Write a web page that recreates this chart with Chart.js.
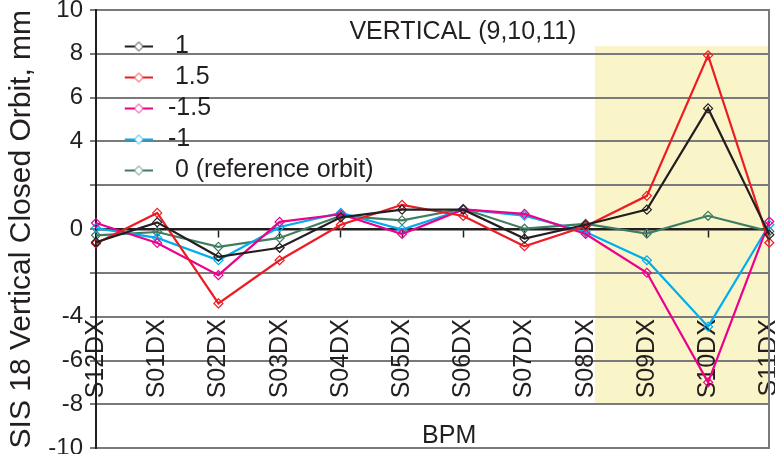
<!DOCTYPE html>
<html>
<head>
<meta charset="utf-8">
<script src="https://cdn.jsdelivr.net/npm/chart.js@4/dist/chart.umd.min.js"></script>
<style>
  body { margin: 0; background: #fff; }
  #wrap { width: 775px; height: 454px; }
</style>
</head>
<body>
<div id="wrap"><canvas id="orbit-chart" width="775" height="454"></canvas></div>
<script>
// BPM names along the ring
const bpmLabels = ['S12DX', 'S01DX', 'S02DX', 'S03DX', 'S04DX', 'S05DX', 'S06DX', 'S07DX', 'S08DX', 'S09DX', 'S10DX', 'S11DX'];

// closed orbit (mm) for each bump setting
const orbitPlus1 = [-0.6, 0.31, -1.26, -0.85, 0.54, 0.89, 0.89, -0.43, 0.2, 0.89, 5.51, -0.25];
const orbitPlus15 = [-0.65, 0.74, -3.39, -1.42, 0.2, 1.11, 0.6, -0.78, 0.13, 1.52, 7.93, -0.62];
const orbitMinus15 = [0.28, -0.63, -2.1, 0.33, 0.68, -0.22, 0.9, 0.7, -0.22, -1.99, -6.99, 0.35];
const orbitMinus1 = [0.05, -0.4, -1.42, 0.1, 0.74, -0.02, 0.9, 0.62, -0.13, -1.42, -4.45, 0.2];
const orbitRef = [-0.28, -0.13, -0.81, -0.4, 0.61, 0.4, 0.93, 0.02, 0.24, -0.2, 0.61, -0.1];

const seriesNames = [' 1', ' 1.5', '-1.5', '-1', ' 0 (reference orbit)'];
const seriesColors = ['#231f20', '#ed1c24', '#ec008c', '#00aeef', '#3f7d62'];

// y tick labels shown in the original (2 and -2 left blank)
const yTickLabels = { 10: '10', 8: '8', 6: '6', 4: '4', 0: '0', '-4': '-4', '-6': '-6', '-8': '-8', '-10': '-10' };

// shaded bump region (S09..S11), in axis units
const bumpRegion = { xFrom: 8.15, xTo: 11, yTop: 8.35, yBottom: -8 };

const FONT = "'Liberation Sans', Arial, sans-serif";
const INK = '#231f20';
const GRID = '#7a7a7a';

// legend marker: short line with a hollow diamond
function makeMarker(color) {
    const c = document.createElement('canvas');
    c.width = 48;
    c.height = 12;
    const g = c.getContext('2d');
    g.strokeStyle = color;
    g.lineWidth = 2;
    g.beginPath();
    g.moveTo(20, 6);
    g.lineTo(48, 6);
    g.stroke();
    g.fillStyle = '#fff';
    g.lineWidth = 1;
    g.beginPath();
    g.moveTo(34, 1.5);
    g.lineTo(38.5, 6);
    g.lineTo(34, 10.5);
    g.lineTo(29.5, 6);
    g.closePath();
    g.fill();
    g.stroke();
    return c;
}
const markers = seriesColors.map(makeMarker);

// yellow band under the grid plus the two free texts
const extrasPlugin = {
    id: 'extras',
    beforeDraw(chart) {
        const { ctx, scales: { x, y } } = chart;
        const x0 = x.getPixelForValue(bumpRegion.xFrom);
        const x1 = x.getPixelForValue(bumpRegion.xTo);
        const y0 = y.getPixelForValue(bumpRegion.yTop);
        const y1 = y.getPixelForValue(bumpRegion.yBottom);
        ctx.save();
        ctx.fillStyle = '#faf5c8';
        ctx.fillRect(x0, y0, x1 - x0, y1 - y0);
        ctx.restore();
    },
    afterDraw(chart) {
        const { ctx, scales: { x, y } } = chart;
        ctx.save();
        ctx.fillStyle = INK;
        ctx.font = '25px ' + FONT;
        ctx.textBaseline = 'middle';
        ctx.textAlign = 'left';
        ctx.fillText('VERTICAL (9,10,11)', x.getPixelForValue(4.14), y.getPixelForValue(9.0));
        ctx.textAlign = 'center';
        ctx.fillText('BPM', x.getPixelForValue(5.77), y.getPixelForValue(-9.43));
        ctx.restore();
    }
};

const seriesData = [orbitPlus1, orbitPlus15, orbitMinus15, orbitMinus1, orbitRef];

const ctx = document.getElementById('orbit-chart').getContext('2d');
window.myChart = new Chart(ctx, {
    type: 'line',
    data: {
        labels: bpmLabels,
        datasets: seriesData.map((vals, i) => ({
            label: seriesNames[i],
            data: vals,
            borderColor: seriesColors[i],
            borderWidth: 2.2,
            pointStyle: 'rectRot',
            pointRadius: 4.5,
            pointBorderWidth: 1.2,
            pointBorderColor: seriesColors[i],
            pointBackgroundColor: 'rgba(0,0,0,0)',
            tension: 0,
        })),
    },
    options: {
        responsive: false,
        animation: false,
        layout: { padding: { top: 10, right: 4, bottom: 5, left: 0 } },
        plugins: {
            tooltip: { enabled: false },
            legend: {
                position: 'chartArea',
                align: 'start',
                title: { display: true, text: '', font: { size: 10 }, padding: { top: 16, bottom: 0 } },
                labels: {
                    usePointStyle: true,
                    pointStyleWidth: 53.5,
                    padding: 6,
                    color: INK,
                    font: { size: 25, family: FONT },
                    generateLabels(chart) {
                        const items = Chart.defaults.plugins.legend.labels.generateLabels(chart);
                        items.forEach((it, i) => { it.pointStyle = markers[i]; });
                        return items;
                    },
                },
            },
        },
        scales: {
            y: {
                min: -10,
                max: 10,
                ticks: {
                    stepSize: 2,
                    padding: 7,
                    color: INK,
                    font: { size: 24, family: FONT },
                    callback: (v) => (v in yTickLabels ? yTickLabels[v] : ''),
                },
                grid: { color: GRID, lineWidth: 2, tickLength: 6, tickColor: GRID },
                border: { color: INK, width: 2 },
                title: {
                    display: true,
                    text: 'SIS 18 Vertical Closed Orbit, mm',
                    color: INK,
                    font: { size: 30, family: FONT },
                    padding: { top: 4, bottom: 0 },
                },
                afterFit(scale) {
                    scale.width = 96;
                    scale.paddingTop = 0;
                    scale.paddingBottom = 0;
                },
            },
            x: {
                position: { y: 0 },
                ticks: {
                    autoSkip: false,
                    minRotation: 90,
                    maxRotation: 90,
                    padding: 83,
                    color: INK,
                    font: { size: 25, family: FONT },
                },
                grid: { drawOnChartArea: false, drawTicks: true, tickLength: 7, tickColor: INK, tickWidth: 1.5 },
                border: { color: INK, width: 2.5 },
                afterFit(scale) {
                    scale.paddingLeft = 0;
                    scale.paddingRight = 0;
                },
            },
            yRight: {
                position: 'right',
                min: -10,
                max: 10,
                ticks: { display: false },
                grid: { display: false, drawTicks: false },
                border: { color: GRID, width: 2 },
            },
        },
    },
    plugins: [extrasPlugin],
});
</script>
</body>
</html>
